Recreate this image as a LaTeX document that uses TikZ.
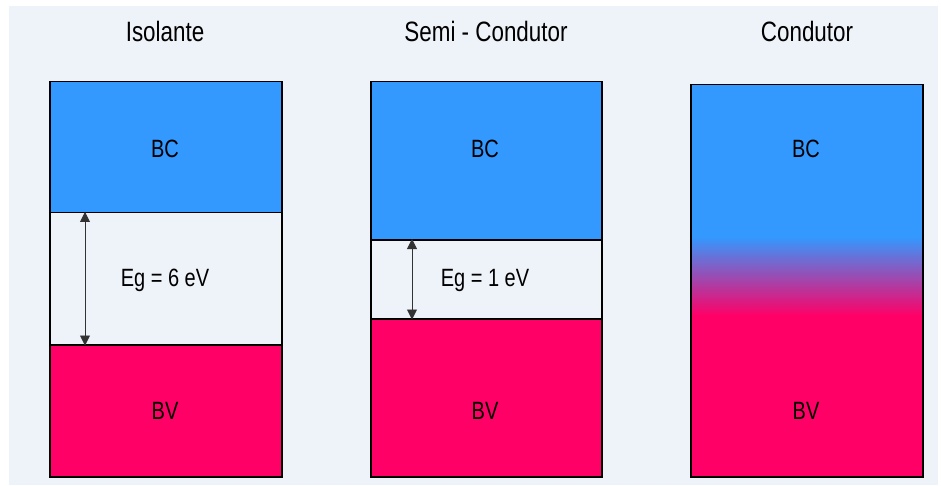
\documentclass[tikz,border=0pt]{standalone}
\usepackage{fontspec}
\setmainfont[FakeStretch=0.8]{Liberation Sans}
\definecolor{bandblue}{RGB}{51, 153, 255}
\definecolor{bandpink}{RGB}{255, 0, 102}
\definecolor{panelbg}{RGB}{238, 242, 249}
\usetikzlibrary{arrows.meta, positioning}

\begin{document}
\begin{tikzpicture}[
  x=1pt, y=-1pt,
  band/.style={draw=black, line width=1.5pt, minimum width=232pt, anchor=north west, inner sep=0pt},
  title/.style={font=\fontsize{28}{33}\selectfont},
  bandlabel/.style={font=\fontsize{25}{30}\selectfont},
  egarrow/.style={{Triangle[width=10pt,length=10pt]}-{Triangle[width=10pt,length=10pt]}, line width=0.9pt, draw=black!80, fill=black}
]
  \useasboundingbox (0,0) rectangle (941,486);
  \fill[panelbg] (9,6) rectangle (938,485);

  % Isolante
  \node[title] (t1) at (165,31) {Isolante};
  \node[band, fill=bandblue, minimum height=131pt] (bc1) at (49,81) {};
  \node[band, fill=panelbg, minimum height=132pt] (gap1) at (49,212) {};
  \node[band, fill=bandpink, minimum height=132pt] (bv1) at (49,344) {};
  \node[bandlabel] (bclab1) at (165,149) {BC};
  \node[bandlabel] (eg1) at (165,280) {Eg = 6 eV};
  \node[bandlabel] (bvlab1) at (165,411) {BV};
  \draw[egarrow] ([xshift=36pt]gap1.north west) -- ([xshift=36pt]gap1.south west);

  % Semi - Condutor
  \node[title] (t2) at (486,31) {Semi - Condutor};
  \node[band, fill=bandblue, minimum height=158pt, minimum width=231pt] (bc2) at (370,81) {};
  \node[band, fill=panelbg, minimum height=79pt, minimum width=231pt] (gap2) at (370,239) {};
  \node[band, fill=bandpink, minimum height=158pt, minimum width=231pt] (bv2) at (370,318) {};
  \node[bandlabel] (bclab2) at (485,149) {BC};
  \node[bandlabel] (eg2) at (485,280) {Eg = 1 eV};
  \node[bandlabel] (bvlab2) at (485,411) {BV};
  \draw[egarrow] ([xshift=42pt]gap2.north west) -- ([xshift=42pt]gap2.south west);

  % Condutor
  \node[title] (t3) at (807,31) {Condutor};
  \fill[bandblue] (690,84) rectangle (922,237);
  \shade[top color=bandblue, bottom color=bandpink] (690,236.5) rectangle (922,315.5);
  \fill[bandpink] (690,315) rectangle (922,476);
  \node[band, minimum height=392pt] (cd3) at (690,84) {};
  \node[bandlabel] (bclab3) at (806,149) {BC};
  \node[bandlabel] (bvlab3) at (806,411) {BV};
\end{tikzpicture}
\end{document}
